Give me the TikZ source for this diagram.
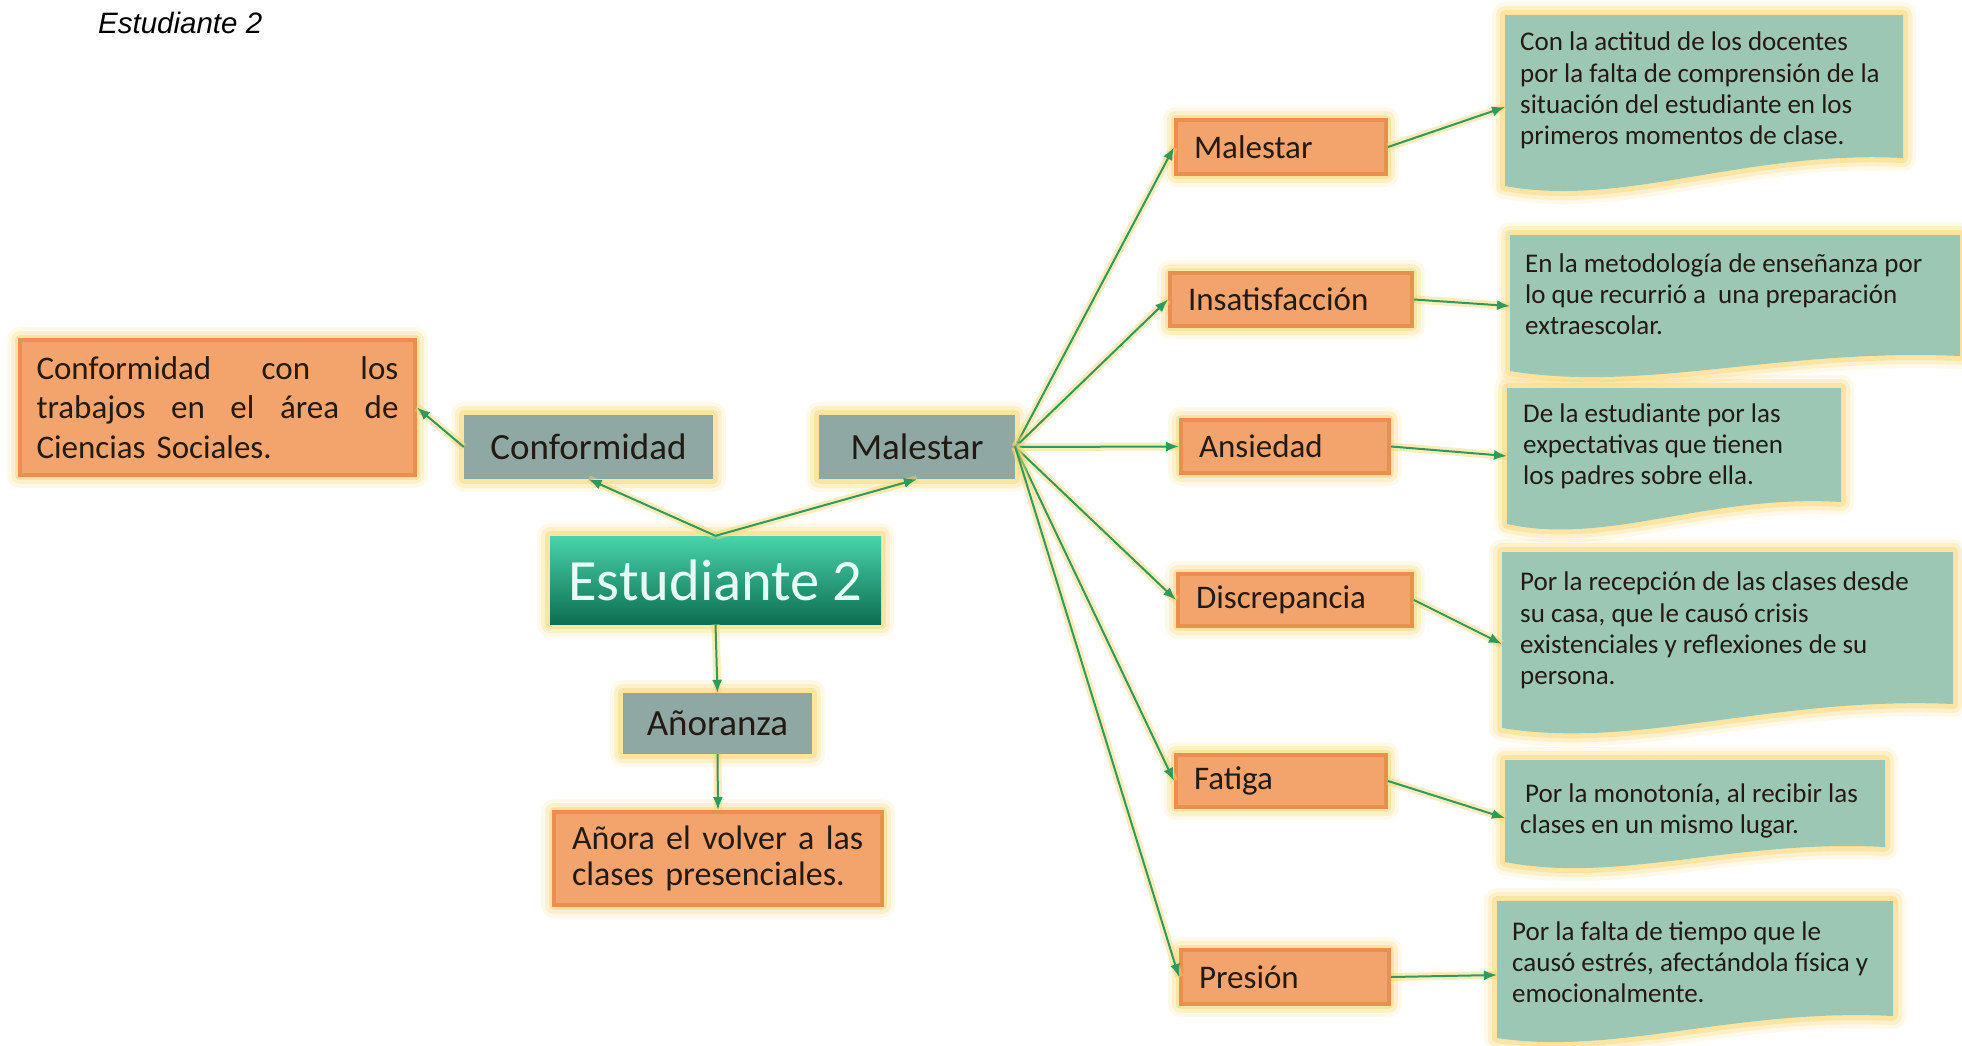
\documentclass[tikz,border=0pt]{standalone}
\usepackage{fontspec}
\setmainfont{Carlito}
\newfontfamily\arialfont{Liberation Sans}
\usetikzlibrary{arrows.meta,calc}
\definecolor{glowc}{HTML}{FCD56A}
\definecolor{orfill}{HTML}{F3A46C}
\definecolor{ordraw}{HTML}{E98F50}
\definecolor{greyfill}{HTML}{8FA8A4}
\definecolor{tealfill}{HTML}{9CC7B5}
\definecolor{arrowc}{HTML}{2E9A5C}
\definecolor{esttop}{HTML}{48D3AB}
\definecolor{estbot}{HTML}{0D6E50}
\definecolor{esttext}{HTML}{E6FFF6}
\definecolor{txt}{HTML}{231A14}
\tikzset{
  glow/.style={
    preaction={draw=glowc,line width=26pt,draw opacity=0.14,line join=round},
    preaction={draw=glowc,line width=18pt,draw opacity=0.24,line join=round},
    preaction={draw=glowc,line width=10pt,draw opacity=0.4,line join=round}},
  orbox/.style={glow,rectangle,fill=orfill,draw=ordraw,line width=4pt,inner sep=0pt,text=txt},
  orsmall/.style={orbox,align=left,font=\fontsize{33}{38}\selectfont},
  greybox/.style={glow,rectangle,fill=greyfill,inner sep=0pt,text=txt,font=\fontsize{37}{44}\selectfont},
  tealshape/.style={glow,fill=tealfill},
  tealtext/.style={anchor=north west,inner sep=0pt,align=left,text=txt,font=\fontsize{27}{31.3}\selectfont},
  link/.style={draw=arrowc,line width=2pt,-{Latex[length=13pt,width=10pt]},
    preaction={draw=glowc,line width=8pt,draw opacity=0.45,-}},
}
\begin{document}
\begin{tikzpicture}[x=1pt,y=-1pt]
\useasboundingbox (0,0) rectangle (1962,1045);
\fill[white] (0,0) rectangle (1962,1045);

% header
\node[font=\arialfont\itshape\fontsize{29.5}{32}\selectfont,anchor=base west,inner sep=0pt] (hdr) at (98,33) {Estudiante 2};

% left / centre
\node[orbox,minimum width=395pt,minimum height=135pt,text width=362pt,align=left,
  font=\fontsize{33}{39.5}\selectfont] (lbox) at (217.5,407.5)
  {Conformidad\hfill con\hfill los\\trabajos\hfill en\hfill el\hfill área\hfill de\\Ciencias Sociales.};
\node[greybox,minimum width=249pt,minimum height=64pt] (conf) at (588.5,447) {Conformidad};
\node[greybox,minimum width=196pt,minimum height=64pt] (mal) at (917,447) {Malestar};
\node[glow,rectangle,top color=esttop,bottom color=estbot,minimum width=331pt,minimum height=88pt,
  inner sep=0pt,text=esttext,font=\fontsize{58.5}{62}\selectfont] (est) at (715.5,580) {Estudiante 2};
\node[greybox,minimum width=189pt,minimum height=61pt] (anor) at (717.5,723.5) {Añoranza};
\node[orbox,minimum width=328pt,minimum height=93pt,text width=292pt,align=left,
  font=\fontsize{34}{36.5}\selectfont] (anora) at (718,858.5)
  {Añora el volver a las\\clases presenciales.};

% right orange boxes
\node[orsmall,minimum width=210pt,minimum height=54pt,text width=174pt] (om1) at (1281,147) {Malestar};
\node[orsmall,minimum width=242pt,minimum height=53pt,text width=206pt] (om2) at (1291,299.5) {Insatisfacción};
\node[orsmall,minimum width=208pt,minimum height=53pt,text width=172pt] (om3) at (1285,446.5) {Ansiedad};
\node[orsmall,minimum width=234pt,minimum height=52pt,text width=198pt] (om4) at (1295,600) {Discrepancia};
\node[orsmall,minimum width=210pt,minimum height=52pt,text width=174pt] (om5) at (1281,781) {Fatiga};
\node[orsmall,minimum width=208pt,minimum height=54pt,text width=172pt] (om6) at (1285,977) {Presión};

% teal document shapes
\path[tealshape] (1505,15) -- (1903,15) -- (1903,158) .. controls (1744,150) and (1624,208) .. (1505,186) -- cycle;
\path[tealshape] (1510,235) -- (1960,235) -- (1960,356) .. controls (1780,348) and (1645,393) .. (1510,371) -- cycle;
\path[tealshape] (1507,388) -- (1841,388) -- (1841,502) .. controls (1707,494) and (1607,546) .. (1507,524) -- cycle;
\path[tealshape] (1502,552) -- (1953,552) -- (1953,704) .. controls (1773,696) and (1637,750) .. (1502,728) -- cycle;
\path[tealshape] (1505,760) -- (1885,760) -- (1885,847) .. controls (1733,839) and (1619,884) .. (1505,862) -- cycle;
\path[tealshape] (1497,901) -- (1893,901) -- (1893,1016) .. controls (1735,1008) and (1616,1056) .. (1497,1038) -- cycle;
\coordinate (t1) at (1505,107);
\coordinate (t2) at (1510,306);
\coordinate (t3) at (1507,456);
\coordinate (t4) at (1502,644);
\coordinate (t5) at (1505,818);
\coordinate (t6) at (1497,975);

\node[tealtext] (t1x) at (1520,28.6)
  {\strut Con la actitud de los docentes\\por la falta de comprensión de la\\situación del estudiante en los\\primeros momentos de clase.};
\node[tealtext] (t2x) at (1525,250)
  {\strut En la metodología de enseñanza por\\lo que recurrió a \ una preparación\\extraescolar.};
\node[tealtext] (t3x) at (1523,400)
  {\strut De la estudiante por las\\expectativas que tienen\\los padres sobre ella.};
\node[tealtext] (t4x) at (1520,568.6)
  {\strut Por la recepción de las clases desde\\su casa, que le causó crisis\\existenciales y reflexiones de su\\persona.};
\node[tealtext] (t5x) at (1520,780)
  {\strut\hspace*{5pt}Por la monotonía, al recibir las\\clases en un mismo lugar.};
\node[tealtext] (t6x) at (1512,918)
  {\strut Por la falta de tiempo que le\\causó estrés, afectándola física y\\emocionalmente.};

% connectors
\draw[link] (est.north) -- (conf.south);
\draw[link] (est.north) -- (mal.south);
\draw[link] (conf.west) -- (lbox.east);
\draw[link] (est.south) -- (anor.north);
\draw[link] (anor.south) -- (anora.north);
\foreach \n in {om1,om2,om3,om4,om5,om6} \draw[link] (mal.east) -- (\n.west);
\draw[link] (om1.east) -- (t1);
\draw[link] (om2.east) -- (t2);
\draw[link] (om3.east) -- (t3);
\draw[link] (om4.east) -- (t4);
\draw[link] (om5.east) -- (t5);
\draw[link] (om6.east) -- (t6);
\end{tikzpicture}
\end{document}
